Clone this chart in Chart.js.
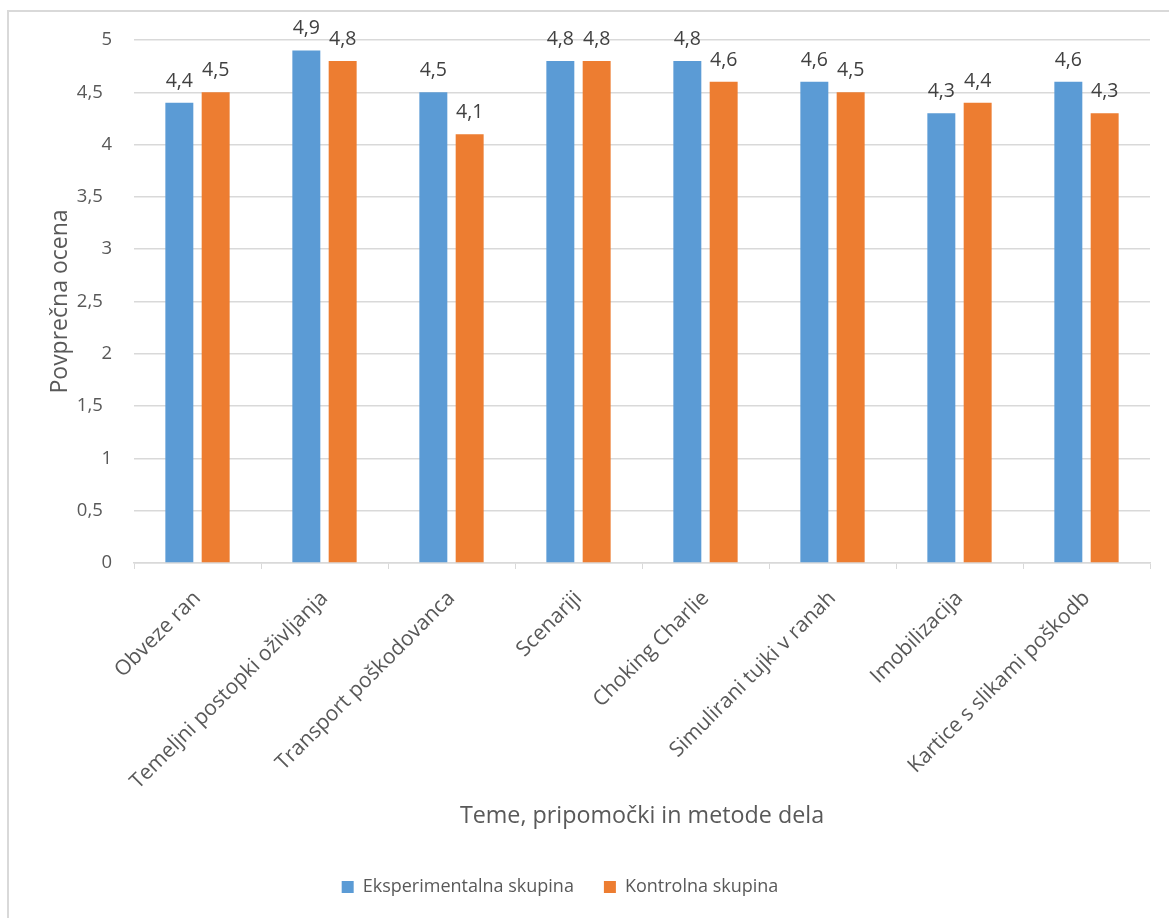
<!DOCTYPE html>
<html>
<head>
<meta charset="utf-8">
<script src="https://cdn.jsdelivr.net/npm/chart.js@4"></script>
<style>
  html, body { margin: 0; padding: 0; background: #fff; overflow: hidden; }
  #frame {
    position: absolute; left: 7px; top: 10px; width: 1300px; height: 1000px;
    border: 2px solid #d9d9d9; box-sizing: border-box;
  }
  #wrap { position: absolute; left: 0; top: 0; width: 1169px; height: 918px; }
</style>
</head>
<body>
<div id="frame"></div>
<div id="wrap"><canvas id="chart"></canvas></div>
<script>
const categories = [
  "Obveze ran",
  "Temeljni postopki oživljanja",
  "Transport poškodovanca",
  "Scenariji",
  "Choking Charlie",
  "Simulirani tujki v ranah",
  "Imobilizacija",
  "Kartice s slikami poškodb"
];
const experimental = [4.4, 4.9, 4.5, 4.8, 4.8, 4.6, 4.3, 4.6];
const control = [4.5, 4.8, 4.1, 4.8, 4.6, 4.5, 4.4, 4.3];
const seriesNames = ["Eksperimentalna skupina", "Kontrolna skupina"];

const FONT = "'Open Sans', sans-serif";
const fmt = (v) => String(v).replace(".", ",");

// draws the value above each bar
const valueLabels = {
  id: "valueLabels",
  afterDatasetsDraw(chart) {
    const { ctx } = chart;
    ctx.save();
    ctx.font = "19.5px " + FONT;
    ctx.fillStyle = "#404040";
    ctx.textAlign = "center";
    ctx.textBaseline = "bottom";
    chart.data.datasets.forEach((ds, i) => {
      chart.getDatasetMeta(i).data.forEach((bar, j) => {
        ctx.fillText(fmt(ds.data[j]), bar.x, bar.y - 12);
      });
    });
    ctx.restore();
  }
};

// legend in the original sits a bit left of the canvas centre
const legendShift = {
  id: "legendShift",
  afterLayout(chart) {
    if (!chart.legend) return;
    chart.legend.left -= 15;
    chart.legend.right -= 15;
  }
};

new Chart(document.getElementById("chart"), {
  type: "bar",
  data: {
    labels: categories,
    datasets: [
      { label: seriesNames[0], data: experimental, backgroundColor: "#5B9BD5",
        categoryPercentage: 0.572, barPercentage: 0.77 },
      { label: seriesNames[1], data: control, backgroundColor: "#ED7D31",
        categoryPercentage: 0.572, barPercentage: 0.77 }
    ]
  },
  options: {
    responsive: true,
    maintainAspectRatio: false,
    animation: false,
    layout: { padding: { top: 40, right: 19, left: 0, bottom: 12 } },
    scales: {
      x: {
        afterFit: (s) => { s.height = 285; },
        grid: { drawOnChartArea: false, drawTicks: true, tickLength: 6, color: "#d9d9d9" },
        border: { color: "#d9d9d9", width: 1.5 },
        ticks: {
          color: "#595959", font: { family: FONT, size: 21 },
          minRotation: 45, maxRotation: 45, autoSkip: false, padding: 17
        },
        title: {
          display: true, text: "Teme, pripomočki in metode dela",
          color: "#595959", font: { family: FONT, size: 23.3 },
          padding: { top: 0, bottom: 18 }
        }
      },
      y: {
        min: 0, max: 5,
        afterFit: (s) => { s.width = 134; },
        grid: { color: "#d9d9d9", lineWidth: 1.5, drawTicks: false },
        border: { display: false },
        ticks: {
          stepSize: 0.5, color: "#595959", padding: 22,
          font: { family: FONT, size: 18.5 },
          // decimal labels sit a little further left than whole numbers
          callback: (v) => Number.isInteger(v) ? fmt(v) : fmt(v) + "\u2002"
        },
        title: {
          display: true, text: "Povprečna ocena",
          color: "#595959", font: { family: FONT, size: 23 },
          padding: { top: 47, bottom: 0 }
        }
      }
    },
    plugins: {
      legend: {
        position: "bottom",
        labels: {
          boxWidth: 12, boxHeight: 12, padding: 30,
          color: "#595959", font: { family: FONT, size: 18 }
        }
      },
      tooltip: { enabled: false }
    }
  },
  plugins: [valueLabels, legendShift]
});
</script>
</body>
</html>
